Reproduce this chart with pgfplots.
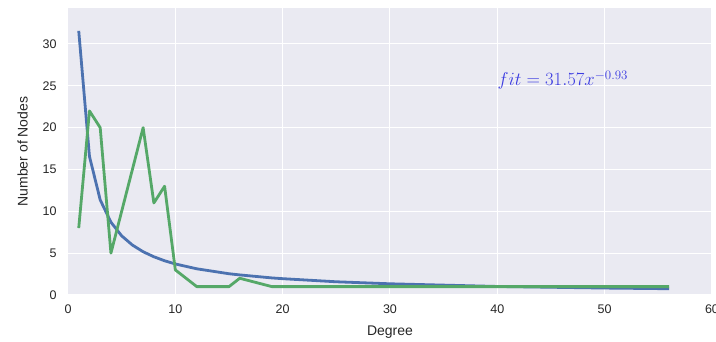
\documentclass[border=0pt]{standalone}
\usepackage{pgfplots}
\pgfplotsset{compat=1.18}
\usepackage{fontspec}
\setmainfont{Liberation Sans}
\definecolor{sbbg}{HTML}{EAEAF2}
\definecolor{sbblue}{HTML}{4C72B0}
\definecolor{sbgreen}{HTML}{55A868}
\definecolor{sbtext}{HTML}{262626}
\definecolor{fitblue}{RGB}{60,60,225}
\begin{document}
\begin{tikzpicture}
\begin{axis}[
  scale only axis,
  width=644pt, height=287pt,
  xmin=0, xmax=60, ymin=0, ymax=34.3,
  xtick={0,10,20,30,40,50,60},
  ytick={0,5,10,15,20,25,30},
  axis background/.style={fill=sbbg},
  axis line style={draw=none},
  major tick length=0pt,
  grid=major,
  grid style={white, line width=1pt},
  tick label style={font=\fontsize{12.5}{14}\selectfont, text=sbtext},
  xticklabel style={yshift=-6pt},
  yticklabel style={xshift=-8pt},
  label style={font=\fontsize{14}{16}\selectfont, text=sbtext},
  xlabel={Degree},
  ylabel={Number of Nodes},
  xlabel style={yshift=-6pt},
  ylabel style={yshift=8pt},
  /pgf/number format/assume math mode=true,
  clip=false,
]
\addplot[sbblue, line width=2.8pt, line join=round] coordinates {
(1,31.57) (2,16.57) (3,11.37) (4,8.70) (5,7.07) (6,5.97) (7,5.17) (8,4.57) (9,4.09) (10,3.71)
(12,3.13) (15,2.54) (16,2.40) (19,2.04) (20,1.95) (25,1.58) (30,1.34) (40,1.02) (50,0.83) (56,0.75)
};
\addplot[sbgreen, line width=2.8pt, line join=round] coordinates {
(1,8) (2,22) (3,20) (4,5) (7,20) (8,11) (9,13) (10,3) (12,1) (15,1) (16,2) (19,1) (56,1)
};
\node[anchor=base west, text=fitblue, inner sep=0pt, scale=1.08, transform shape, font=\fontsize{17}{20}\selectfont] at (axis cs:40.0,25.0) {$fit=31.57x^{-0.93}$};
\end{axis}
\pgfresetboundingbox
\useasboundingbox (-68pt,-47pt) rectangle (648pt,295pt);
\end{tikzpicture}
\end{document}
